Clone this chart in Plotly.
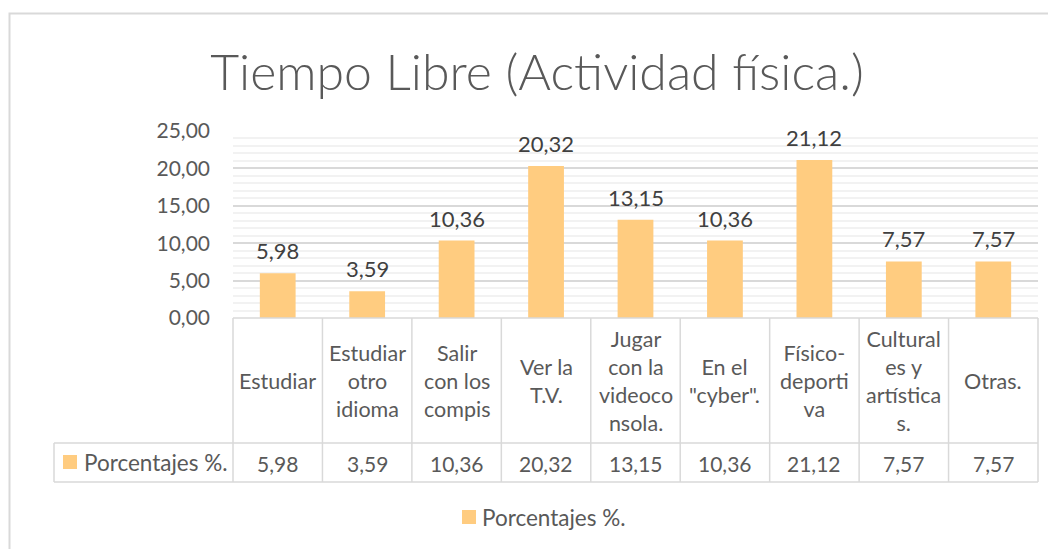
import plotly.graph_objects as go

# Datos del gráfico
categorias = ["Estudiar", "Estudiar otro idioma", "Salir con los compis", "Ver la T.V.",
              "Jugar con la videoconsola.", "En el \"cyber\".", "Físico-deportiva",
              "Culturales y artísticas.", "Otras."]
etiquetas = ["Estudiar", "Estudiar<br>otro<br>idioma", "Salir<br>con los<br>compis", "Ver la<br>T.V.",
             "Jugar<br>con la<br>videoco<br>nsola.", "En el<br>\"cyber\".", "Físico-<br>deporti<br>va",
             "Cultural<br>es y<br>artística<br>s.", "Otras."]
porcentajes = [5.98, 3.59, 10.36, 20.32, 13.15, 10.36, 21.12, 7.57, 7.57]
serie = "Porcentajes %."
titulo = "Tiempo Libre (Actividad física.)"

# Dimensiones: la página añade 8 px de margen, se compensa aquí
W, H = 1048, 541
L, R, T, B = 225, 18, 123, 231
pw, ph = W - L - R, H - T - B
X0, Y0 = 233, 318  # esquina inferior izquierda del área del gráfico en pantalla

def px(x):
    return (x - X0) / pw

def py(y):
    return (Y0 - y) / ph

color_barra = "#FFCC80"
color_linea = "#D9D9D9"
color_texto = "#595959"
fuente = "Lato"

def fmt(v):
    return f"{v:.2f}".replace(".", ",")

fig = go.Figure(go.Bar(x=categorias, y=porcentajes, name=serie,
                       marker=dict(color=color_barra, line=dict(width=0)),
                       width=0.4, showlegend=False))

n = len(categorias)
shapes = []
# Líneas verticales de la tabla
for k in range(n + 1):
    shapes.append(dict(type="line", xref="paper", yref="paper", x0=k / n, x1=k / n,
                       y0=py(482), y1=0, line=dict(color=color_linea, width=1.5)))
shapes.append(dict(type="line", xref="paper", yref="paper", x0=px(54), x1=px(54),
                   y0=py(482), y1=py(443), line=dict(color=color_linea, width=1.5)))
# Líneas horizontales de la tabla
for yy, x0 in [(318, 0), (443, px(54)), (482, px(54))]:
    shapes.append(dict(type="line", xref="paper", yref="paper", x0=x0, x1=1,
                       y0=py(yy), y1=py(yy), line=dict(color=color_linea, width=1.5)))
# Clave de la serie en la tabla y en la leyenda
for sx, sy in [(63, 455), (462, 510)]:
    shapes.append(dict(type="rect", xref="paper", yref="paper", x0=px(sx), x1=px(sx + 14),
                       y0=py(sy + 14), y1=py(sy), fillcolor=color_barra, line=dict(width=0)))
# Borde exterior del gráfico
shapes.append(dict(type="rect", xref="paper", yref="paper", x0=px(9.5), x1=px(1070),
                   y0=py(560), y1=py(13.5), line=dict(color=color_linea, width=2),
                   fillcolor="rgba(0,0,0,0)", layer="below"))

annotations = []
for c, e, v in zip(categorias, etiquetas, porcentajes):
    # Etiqueta de datos sobre la barra
    annotations.append(dict(x=c, y=v, xref="x", yref="y", text=fmt(v), showarrow=False,
                            yanchor="bottom", yshift=7,
                            font=dict(family=fuente, size=22, color="#404040")))
    # Encabezado de la tabla
    annotations.append(dict(x=c, y=py(380.5), xref="x", yref="paper", text=e, showarrow=False,
                            yanchor="middle", font=dict(family=fuente, size=21.5, color=color_texto)))
    # Valor en la tabla
    annotations.append(dict(x=c, y=py(463), xref="x", yref="paper", text=fmt(v), showarrow=False,
                            yanchor="middle", font=dict(family=fuente, size=21, color=color_texto)))
annotations.append(dict(x=px(82), y=py(462), xref="paper", yref="paper", text=serie,
                        showarrow=False, xanchor="left", yanchor="middle",
                        font=dict(family=fuente, size=22.5, color=color_texto)))
annotations.append(dict(x=px(480), y=py(517), xref="paper", yref="paper", text=serie,
                        showarrow=False, xanchor="left", yanchor="middle",
                        font=dict(family=fuente, size=22.5, color=color_texto)))

fig.update_layout(
    width=W, height=H,
    margin=dict(l=L, r=R, t=T, b=B, pad=0),
    paper_bgcolor="white", plot_bgcolor="white",
    separators=",.",
    font=dict(family=fuente, size=20, color=color_texto),
    title=dict(text=titulo, x=(537 - 8) / W, xanchor="center", y=1 - (72 - 8) / H,
               yanchor="middle", yref="container",
               font=dict(family=fuente, size=50, weight=300, color=color_texto)),
    showlegend=False,
    bargap=0.6,
    shapes=shapes,
    annotations=annotations,
)
fig.update_xaxes(showticklabels=False, showgrid=False, zeroline=False, showline=False, ticks="")
fig.update_yaxes(range=[0, 25], dtick=5, tickformat=".2f", showgrid=True, gridcolor=color_linea,
                 gridwidth=1.5, zeroline=False, showline=False, ticks="",
                 ticklabelstandoff=22, tickfont=dict(family=fuente, size=21, color=color_texto),
                 minor=dict(dtick=1, showgrid=True, gridcolor="#F2F2F2", gridwidth=1.5))

fig.write_html("out.html")
